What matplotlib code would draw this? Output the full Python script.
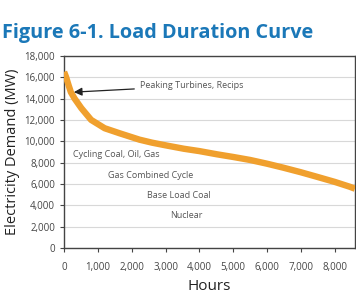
import matplotlib.pyplot as plt
from matplotlib.ticker import FuncFormatter

plt.rcParams['font.family'] = ['Open Sans', 'DejaVu Sans']

# curve
hours = [0, 60, 130, 200, 310, 510, 800, 1200, 1640, 2230, 2600, 3000, 3540,
         4000, 4520, 5000, 5500, 6000, 6480, 7000, 7460, 8000, 8440, 8600]
demand = [16500, 16000, 15280, 14600, 14000, 13100, 12000, 11220, 10750,
          10150, 9870, 9620, 9300, 9080, 8780, 8530, 8250, 7900, 7530, 7100,
          6690, 6200, 5750, 5560]

x_ticks = [0, 1000, 2000, 3000, 4000, 5000, 6000, 7000, 8000]
y_ticks = list(range(0, 18001, 2000))

labels = ["Cycling Coal, Oil, Gas", "Gas Combined Cycle", "Base Load Coal", "Nuclear"]
label_x = [265, 1310, 2440, 3150]
label_y = [8720, 6810, 4970, 3030]

fig = plt.figure(figsize=(3.56, 3.0), dpi=100)
ax = fig.add_axes([0.18, 0.173, 0.817, 0.641])

ax.plot(hours, demand, color='#F0A02E', lw=4.6, solid_capstyle='butt',
        solid_joinstyle='round', zorder=3)

ax.set_xlim(0, 8600)
ax.set_ylim(0, 18000)
ax.set_xticks(x_ticks)
ax.set_yticks(y_ticks)
ax.xaxis.set_major_formatter(FuncFormatter(lambda v, p: f"{int(v):,}"))
ax.yaxis.set_major_formatter(FuncFormatter(lambda v, p: f"{int(v):,}"))
ax.tick_params(labelsize=7, colors='#444444', length=3)
ax.tick_params(axis='x', pad=7)
ax.grid(axis='y', color='#d8d8d8', lw=0.8)
ax.set_axisbelow(True)
for s in ax.spines.values():
    s.set_color('#444444')
    s.set_linewidth(1.0)

ax.set_xlabel("Hours", fontsize=11, color='#222222', labelpad=4)
ax.set_ylabel("Electricity Demand (MW)", fontsize=10.5, color='#222222', labelpad=3)

ax.annotate("Peaking Turbines, Recips", xy=(290, 14600), xytext=(2240, 15180),
            fontsize=6.5, color='#555555', va='center', ha='left',
            arrowprops=dict(arrowstyle='-|>', color='#222222', lw=0.9,
                            shrinkA=2, shrinkB=0, mutation_scale=12))
for t, x, y in zip(labels, label_x, label_y):
    ax.text(x, y, t, fontsize=6.5, color='#555555', va='center', ha='left')

fig.text(0.005, 0.89, "Figure 6-1. Load Duration Curve", fontsize=14.3,
         fontweight='bold', color='#1B78B8', va='center', ha='left')

fig.savefig("out.png", dpi=100)
